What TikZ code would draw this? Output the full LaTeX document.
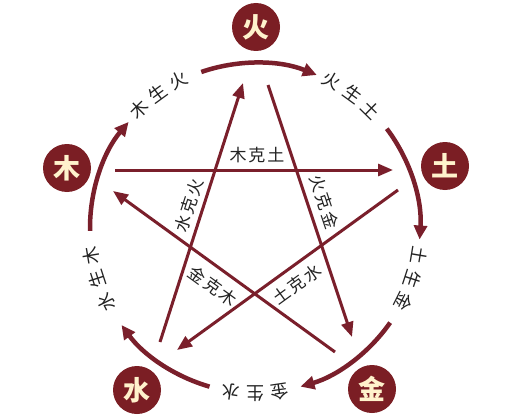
\documentclass[tikz,border=0pt]{standalone}
\usepackage{fontspec}
\newfontfamily\cjk{Noto Sans CJK SC}
\usetikzlibrary{arrows.meta}
\definecolor{maroon}{HTML}{7A1F2B}
\definecolor{elemfill}{HTML}{7B1E24}
\definecolor{cream}{HTML}{FFF2CC}
\definecolor{txt}{HTML}{222222}
\begin{document}
\begin{tikzpicture}[x=1pt,y=1pt,
  elem/.style={circle, fill=elemfill, minimum size=48pt, inner sep=0pt, text=cream, font=\cjk\bfseries\fontsize{27}{27}\selectfont},
  ring/.style={draw=maroon, line width=4.5pt, -{Triangle[length=14pt,width=13pt]}},
  ke/.style={draw=maroon, line width=3pt, -{Triangle[length=15pt,width=12pt]}},
  kelabel/.style={font=\cjk\fontsize{17}{17}\selectfont, text=txt, inner sep=0pt},
  shenglabel/.style={font=\cjk\fontsize{18}{18}\selectfont, text=txt, inner sep=0pt},
]
\fill[white] (0,0) rectangle (509,416);
\useasboundingbox (0,0) rectangle (509,416);
\coordinate (O) at (255,188);
% elements
\node[elem] (huo) at (256,389) {火};
\node[elem] (mu) at (67,248) {木};
\node[elem] (tu) at (445,250) {土};
\node[elem] (shui) at (137,26) {水};
\node[elem] (jin) at (372,27) {金};
% generating cycle (ring arcs)
\draw[ring] ([shift={(109:165)}]O) arc[start angle=109, end angle=68, radius=165];
\draw[ring] ([shift={(37:165)}]O) arc[start angle=37, end angle=-4, radius=165];
\draw[ring] ([shift={(-35:165)}]O) arc[start angle=-35, end angle=-74, radius=165];
\draw[ring] ([shift={(-106:165)}]O) arc[start angle=-106, end angle=-144, radius=165];
\draw[ring] ([shift={(181:165)}]O) arc[start angle=181, end angle=140, radius=165];
% generating labels, one character at a time along the ring
\foreach \a/\t [count=\i] in {134.5/木,126/生,117.5/火,
                               62.5/火,54/生,45.5/土,
                               -9.5/土,-18/生,-26.5/金,
                               -81.5/金,-90/生,-98.5/水,
                               -153.5/水,-162/生,-170.5/木}
  \node[shenglabel, rotate=\a-90] (sl\i) at ([shift={(\a:166)}]O) {\t};
% overcoming star
\coordinate (k1s) at (115,246); \coordinate (k1e) at (393,246);
\coordinate (k2s) at (268,331); \coordinate (k2e) at (352,79);
\coordinate (k3s) at (398,226); \coordinate (k3e) at (177,66);
\coordinate (k4s) at (335,64);  \coordinate (k4e) at (113,225);
\coordinate (k5s) at (160,74);  \coordinate (k5e) at (243,333);
\draw[ke] (k1s) -- (k1e);
\draw[ke] (k2s) -- (k2e);
\draw[ke] (k3s) -- (k3e);
\draw[ke] (k4s) -- (k4e);
\draw[ke] (k5s) -- (k5e);
% overcoming labels
\node[kelabel] (kl1) at (257,261) {木\hspace{2pt}克\hspace{2pt}土};
\node[kelabel, rotate=-71.5] (kl2) at (324,214) {火\hspace{2pt}克\hspace{2pt}金};
\node[kelabel, rotate=72] (kl3) at (189,211) {水\hspace{2pt}克\hspace{2pt}火};
\node[kelabel, rotate=-36] (kl4) at (213,130) {金\hspace{2pt}克\hspace{2pt}木};
\node[kelabel, rotate=36] (kl5) at (297,132) {土\hspace{2pt}克\hspace{2pt}水};
\end{tikzpicture}
\end{document}
